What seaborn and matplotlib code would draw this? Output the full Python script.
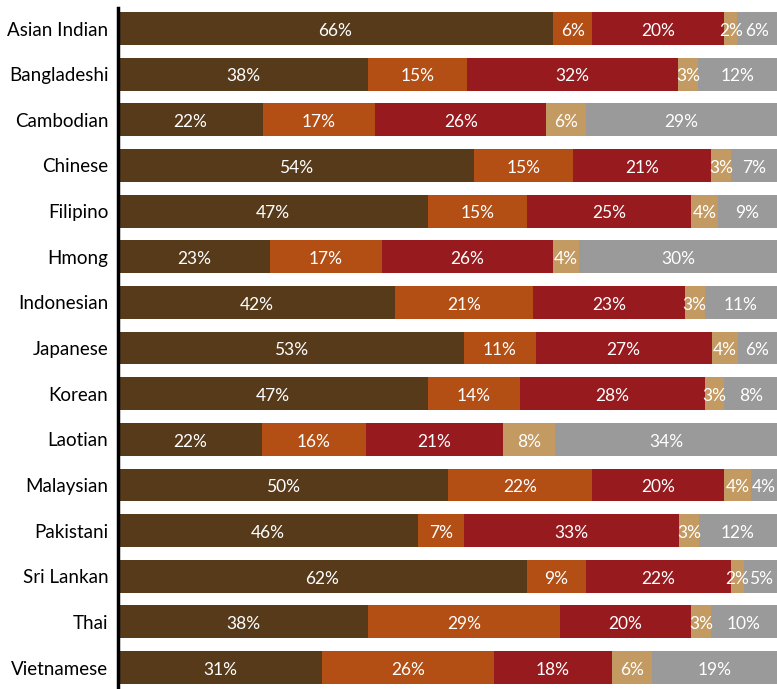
import pandas as pd
import seaborn as sns
import matplotlib.pyplot as plt
import numpy as np

groups = ['Asian Indian', 'Bangladeshi', 'Cambodian', 'Chinese', 'Filipino',
          'Hmong', 'Indonesian', 'Japanese', 'Korean', 'Laotian',
          'Malaysian', 'Pakistani', 'Sri Lankan', 'Thai', 'Vietnamese']

seg1 = [66, 38, 22, 54, 47, 23, 42, 53, 47, 22, 50, 46, 62, 38, 31]
seg2 = [6, 15, 17, 15, 15, 17, 21, 11, 14, 16, 22, 7, 9, 29, 26]
seg3 = [20, 32, 26, 21, 25, 26, 23, 27, 28, 21, 20, 33, 22, 20, 18]
seg4 = [2, 3, 6, 3, 4, 4, 3, 4, 3, 8, 4, 3, 2, 3, 6]
seg5 = [6, 12, 29, 7, 9, 30, 11, 6, 8, 34, 4, 12, 5, 10, 19]

colors = ['#573a1a', '#b34e15', '#971a1f', '#c39a62', '#9a9a9a']

segs = np.array([seg1, seg2, seg3, seg4, seg5], dtype=float)
# scale each row so the bar fills the width (rounded labels can sum to 101)
shares = segs / segs.sum(axis=0) * 100
cum = np.cumsum(shares, axis=0)

sns.set_style('white')
plt.rcParams['font.family'] = ['Lato', 'DejaVu Sans']

fig = plt.figure(figsize=(7.77, 6.89), dpi=100)
ax = fig.add_axes([118 / 777, 0, 1 - 118 / 777, 1 - 8 / 689])

# draw cumulative totals from the right-most segment back to the left
for i in range(4, -1, -1):
    df = pd.DataFrame({'group': groups, 'value': cum[i]})
    sns.barplot(data=df, x='value', y='group', orient='h', color=colors[i],
                width=0.72, saturation=1, ax=ax, linewidth=0)

for i in range(5):
    starts = cum[i] - shares[i]
    for j in range(len(groups)):
        ax.text(starts[j] + shares[i][j] / 2, j + 0.05, f'{int(segs[i][j])}%',
                ha='center', va='center', color='white', fontsize=12.5)

ax.set_xlim(0, 100)
ax.set_ylim(14.47, -0.45)
ax.set_xlabel('')
ax.set_ylabel('')
ax.set_xticks([])
ax.tick_params(axis='y', length=0, pad=7, labelsize=13.5, labelcolor='black')
for side in ['top', 'right', 'bottom']:
    ax.spines[side].set_visible(False)
ax.spines['left'].set_color('black')
ax.spines['left'].set_linewidth(2.5)

fig.savefig('out.png', dpi=100)
